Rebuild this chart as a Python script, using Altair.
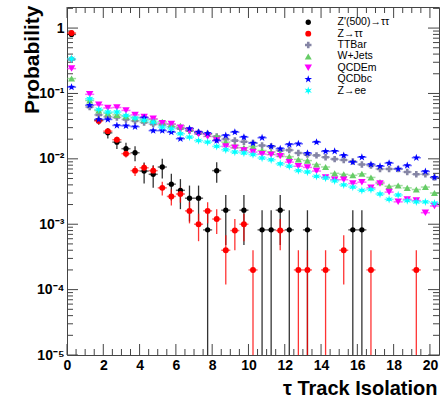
import altair as alt
import pandas as pd

# ---------------- data ----------------
bin_centers = [0.25, 0.75, 1.25, 1.75, 2.25, 2.75, 3.25, 3.75, 4.25, 4.75,
               5.25, 5.75, 6.25, 6.75, 7.25, 7.75, 8.25, 8.75, 9.25, 9.75,
               10.25, 10.75, 11.25, 11.75, 12.25, 12.75, 13.25, 13.75, 14.25, 14.75,
               15.25, 15.75, 16.25, 16.75, 17.25, 17.75, 18.25, 18.75, 19.25, 19.75,
               20.25]
bin_half_width = 0.25

series_names = ["Z'(500)→ττ", "Z→ττ", "TTBar", "W+Jets", "QCDEm", "QCDbc", "Z→ee"]
series_colors = ["#000000", "#ff0000", "#8585a5", "#66cc66", "#ff00ff", "#0000ff", "#00ffff"]

N = None
zprime = [0.80, N, N, 0.039, 0.025, 0.018, 0.0143, 0.0124, 0.0065, 0.0058,
          0.0075, 0.0041, 0.0033, 0.0025, 0.0025, 0.00082, 0.0066, 0.00164, N, 0.00164,
          N, 0.00082, 0.00082, 0.00164, 0.00082, N, 0.00082, N, N, N,
          N, 0.00082, 0.00082, N, N, N, N, N, N, N,
          N]
zprime_err = [0.026, N, N, 0.0057, 0.0045, 0.0038, 0.0034, 0.0032, 0.0023, 0.0022,
              0.0025, 0.0018, 0.0016, 0.0014, 0.0014, 0.00082, 0.0023, 0.00116, N, 0.00116,
              N, 0.00082, 0.00082, 0.00116, 0.00082, N, 0.00082, N, N, N,
              N, 0.00082, 0.00082, N, N, N, N, N, N, N,
              N]
ztautau = [0.84, N, N, 0.038, 0.0265, 0.0196, 0.012, 0.0066, 0.0073, 0.0066,
           0.0036, 0.00266, 0.0029, 0.0016, 0.0010, 0.0016, 0.0012, 0.0004, 0.0008, 0.0010,
           0.0002, N, N, 0.0008, N, 0.0002, 0.0002, N, 0.0002, N,
           0.0004, N, N, 0.0002, N, N, N, N, 0.0002, N,
           N]
ztautau_err = [0.013, N, N, 0.0028, 0.0023, 0.0020, 0.0015, 0.00115, 0.0012, 0.00115,
               0.00085, 0.00073, 0.00076, 0.00057, 0.00045, 0.00057, 0.00049, 0.00028, 0.0004, 0.00045,
               0.0002, N, N, 0.0004, N, 0.0002, 0.0002, N, 0.0002, N,
               0.00028, N, N, 0.0002, N, N, N, N, 0.0002, N,
               N]
ttbar = [0.33, N, 0.062, 0.047, 0.044, 0.043, 0.040, 0.038, 0.036, 0.034,
         0.033, 0.031, 0.029, 0.027, 0.025, 0.024, 0.022, 0.020, 0.019, 0.0183,
         0.0175, 0.016, 0.0155, 0.0134, 0.0136, 0.0123, 0.0116, 0.0113, 0.0106, 0.0099,
         0.0096, 0.0091, 0.0082, 0.0079, 0.0070, 0.0070, 0.0070, 0.0063, 0.0058, 0.0058,
         0.0052]
wjets = [0.169, N, 0.078, 0.055, 0.050, 0.047, 0.045, 0.043, 0.040, 0.040,
         0.037, 0.034, 0.032, 0.029, 0.026, 0.024, 0.022, 0.018, 0.016, 0.0148,
         0.0155, 0.0134, 0.0127, 0.0118, 0.0108, 0.0098, 0.0094, 0.0082, 0.0075, 0.0060,
         0.0058, 0.0056, 0.0059, 0.0052, 0.0044, 0.0038, 0.0039, 0.0036, 0.0034, 0.0037,
         0.0030]
qcdem = [0.24, N, 0.097, 0.067, 0.060, 0.061, 0.055, 0.047, 0.0435, 0.041,
         0.035, 0.034, 0.030, 0.027, 0.024, 0.022, 0.019, 0.0155, 0.0148, 0.0134,
         0.0127, 0.0118, 0.0116, 0.011, 0.0089, 0.0077, 0.0074, 0.0065, 0.0052, 0.0048,
         0.0048, 0.0042, 0.0044, 0.0036, 0.0042, 0.0031, 0.0022, 0.0024, 0.0023, 0.0015,
         0.0019]
qcdbc = [0.125, N, 0.066, 0.040, 0.040, 0.0324, 0.032, 0.031, 0.0425, 0.027,
         0.027, 0.0256, 0.0203, 0.029, 0.0256, 0.0245, 0.019, 0.0228, 0.0256, 0.0215,
         0.0174, 0.021, 0.0155, 0.0143, 0.0166, 0.017, 0.0122, 0.018, 0.013, 0.0131,
         0.0113, 0.0089, 0.0106, 0.0082, 0.0077, 0.0086, 0.0070, 0.0079, 0.0104, 0.0064,
         0.0052]
zee = [0.34, N, 0.083, 0.057, 0.052, 0.052, 0.046, 0.042, 0.0387, 0.0365,
       0.0306, 0.029, 0.0242, 0.0215, 0.019, 0.018, 0.0155, 0.0138, 0.0127, 0.0123,
       0.0116, 0.0103, 0.0097, 0.0084, 0.0077, 0.0066, 0.0063, 0.0054, 0.0051, 0.0046,
       0.0040, 0.0037, 0.0033, 0.0034, 0.0029, 0.0024, 0.0028, 0.0023, 0.0022, 0.0022,
       0.0021]

series_values = [zprime, ztautau, ttbar, wjets, qcdem, qcdbc, zee]
series_errors = [zprime_err, ztautau_err, None, None, None, None, None]

y_major_ticks = [1e-5, 1e-4, 1e-3, 1e-2, 1e-1, 1.0]
y_minor_ticks = [m * 10.0 ** k for k in range(-5, 1) for m in range(2, 10) if m * 10.0 ** k < 2.1]
x_major_ticks = [0, 2, 4, 6, 8, 10, 12, 14, 16, 18, 20]
x_minor_ticks = [v / 2 for v in range(1, 41) if v % 4 != 0]

# ---------------- styling ----------------
W, H = 372, 348
FONT = "Liberation Sans"
FRAME = "#444444"
star5 = ("M0,-1L0.235,-0.324L0.951,-0.309L0.38,0.124L0.588,0.809L0,0.4"
         "L-0.588,0.809L-0.38,0.124L-0.951,-0.309L-0.235,-0.324Z")
star6 = ("M0,-1L0.2,-0.346L0.866,-0.5L0.4,0L0.866,0.5L0.2,0.346L0,1"
         "L-0.2,0.346L-0.866,0.5L-0.4,0L-0.866,-0.5L-0.2,-0.346Z")
series_shapes = ["circle", "circle", "cross", "triangle-up", "triangle-down", star5, star6]
series_sizes = [28, 70, 110, 95, 95, 150, 150]

rows = []
for order, (name, vals, errs) in enumerate(zip(series_names, series_values, series_errors)):
    for i, (c, v) in enumerate(zip(bin_centers, vals)):
        if v is None:
            continue
        row = {"series": name, "order": order, "x": c, "y": v,
               "xlo": c - bin_half_width, "xhi": c + bin_half_width,
               "ylo": None, "yhi": None}
        if errs is not None and errs[i] is not None:
            lo = v - errs[i]
            row["ylo"] = lo if lo > 0 else 1e-8
            row["yhi"] = v + errs[i]
        rows.append(row)
df = pd.DataFrame(rows)

xscale = alt.Scale(domain=[0, 20.5], nice=False, zero=False)
yscale = alt.Scale(type="log", domain=[1e-5, 2.1], nice=False)

label_expr = ("datum.value >= 0.5 ? '1' : '10' + "
              "['', '⁻¹', '⁻²', '⁻³', '⁻⁴', '⁻⁵'][round(-log(datum.value)/LN10)]")

xaxis = alt.Axis(values=x_major_ticks, format="d", ticks=False, domain=False, grid=False,
                 labelFont=FONT, labelFontWeight="bold", labelFontSize=14, labelColor="black",
                 labelPadding=3, labelFlush=False, labelOverlap=False,
                 title="τ Track Isolation", titleFont=FONT, titleFontSize=20,
                 titleFontWeight="bold", titleColor="black", titleAnchor="end",
                 titleAlign="right", titleBaseline="alphabetic", titleX=W - 2, titleY=39)
yaxis = alt.Axis(values=y_major_ticks, labelExpr=label_expr, ticks=False, domain=False,
                 grid=False, labelFont=FONT, labelFontWeight="bold", labelFontSize=14,
                 labelColor="black", labelPadding=3, labelOverlap=False,
                 title="Probability", titleFont=FONT, titleFontSize=21, titleFontWeight="bold",
                 titleColor="black", titleAngle=270, titleAnchor="end", titleAlign="right",
                 titleBaseline="alphabetic", titleX=-29, titleY=-2)

X = alt.X("x:Q", scale=xscale, axis=xaxis)
Y = alt.Y("y:Q", scale=yscale, axis=yaxis)

# error bars: one layer per series, constant colour (keeps the legend clean)
bar_layers = []
for name, col, errs in zip(series_names, series_colors, series_errors):
    sub = df[df["series"] == name]
    if errs is not None:
        sub_err = sub.dropna(subset=["ylo"])
        bar_layers.append(
            alt.Chart(sub_err).mark_rule(color=col, strokeWidth=1.3, opacity=0.8, clip=True).encode(
                x=X, y=alt.Y("ylo:Q", scale=yscale, axis=yaxis), y2="yhi:Q"))
    bar_layers.append(
        alt.Chart(sub).mark_rule(color=col, strokeWidth=1.5, opacity=0.6, clip=True).encode(
            x=alt.X("xlo:Q", scale=xscale, axis=xaxis), x2="xhi:Q", y=Y))

legend = alt.Legend(title=None, orient="none", legendX=236, legendY=10,
                    labelFont=FONT, labelFontSize=10.5, labelColor="black",
                    rowPadding=0.4, labelOffset=24, padding=0, labelLimit=200)

points = alt.Chart(df).mark_point(filled=True, opacity=1, clip=True).encode(
    x=X, y=Y,
    color=alt.Color("series:N", scale=alt.Scale(domain=series_names, range=series_colors),
                    legend=legend),
    shape=alt.Shape("series:N", scale=alt.Scale(domain=series_names, range=series_shapes),
                    legend=legend),
    size=alt.Size("series:N", scale=alt.Scale(domain=series_names, range=series_sizes),
                  legend=legend),
    order=alt.Order("order:Q"),
)


def ticks(values, side, length):
    d = pd.DataFrame({"v": values})
    base = alt.Chart(d).mark_rule(color=FRAME, strokeWidth=1)
    if side == "left":
        return base.encode(y=alt.Y("v:Q", scale=yscale, axis=yaxis), x=alt.value(0), x2=alt.value(length))
    if side == "right":
        return base.encode(y=alt.Y("v:Q", scale=yscale, axis=yaxis), x=alt.value(W), x2=alt.value(W - length))
    if side == "bottom":
        return base.encode(x=alt.X("v:Q", scale=xscale, axis=xaxis), y=alt.value(H), y2=alt.value(H - length))
    return base.encode(x=alt.X("v:Q", scale=xscale, axis=xaxis), y=alt.value(0), y2=alt.value(length))


tick_layers = [
    ticks(y_major_ticks, "left", 11), ticks(y_minor_ticks, "left", 6),
    ticks(y_major_ticks, "right", 11), ticks(y_minor_ticks, "right", 6),
    ticks(x_major_ticks, "bottom", 11), ticks(x_minor_ticks, "bottom", 6),
    ticks(x_major_ticks, "top", 11), ticks(x_minor_ticks, "top", 6),
]

chart = alt.layer(*tick_layers, *bar_layers, points).properties(
    width=W, height=H,
    autosize=alt.AutoSizeParams(type="none"),
    padding={"left": 67, "top": 7, "right": 2, "bottom": 44},
    background="white",
).configure_view(stroke=FRAME, strokeWidth=1, fill="white")

chart.save("out.html", embed_options={"renderer": "svg", "actions": False})
